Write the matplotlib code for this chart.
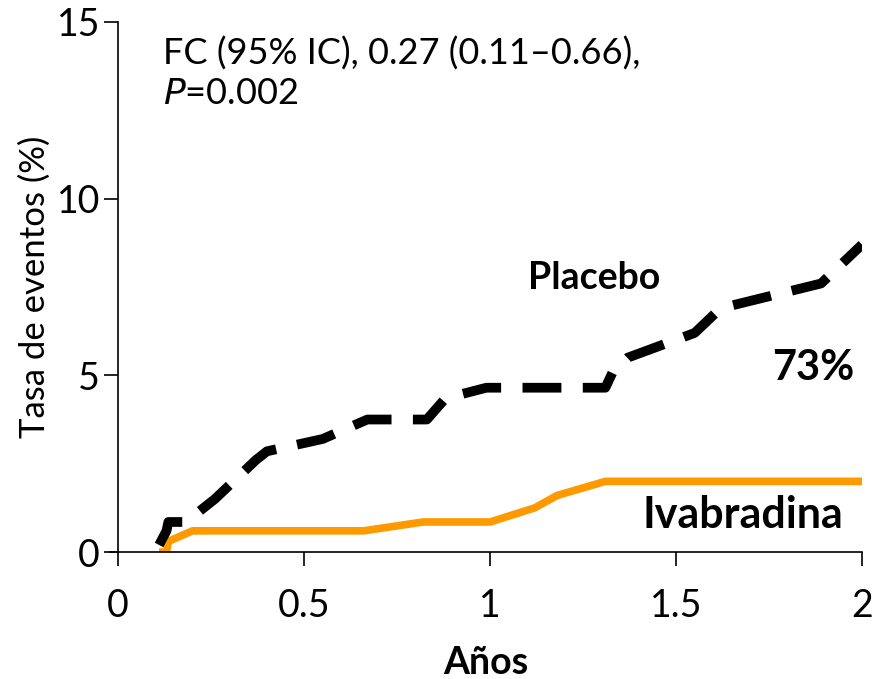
import matplotlib.pyplot as plt

# Kaplan-Meier style cumulative event rates
placebo_x = [0.11, 0.13, 0.135, 0.18, 0.20, 0.26, 0.37, 0.40, 0.55, 0.67, 0.83,
             0.88, 0.99, 1.31, 1.33, 1.37, 1.55, 1.62, 1.89, 1.95, 2.0]
placebo_y = [0.2, 0.6, 0.85, 0.85, 1.0, 1.5, 2.6, 2.85, 3.2, 3.75, 3.75,
             4.35, 4.65, 4.65, 5.1, 5.5, 6.2, 6.9, 7.6, 8.2, 8.7]

ivab_x = [0.11, 0.13, 0.135, 0.2, 0.66, 0.82, 1.0, 1.12, 1.18, 1.31, 2.0]
ivab_y = [0.0, 0.0, 0.3, 0.6, 0.6, 0.85, 0.85, 1.25, 1.6, 2.0, 2.0]

xticks = [0, 0.5, 1, 1.5, 2]
xtick_labels = ["0", "0.5", "1", "1.5", "2"]
yticks = [0, 5, 10, 15]

plt.rcParams['font.family'] = ['Lato', 'DejaVu Sans']

fig = plt.figure(figsize=(8.84, 6.79), dpi=100)
ax = fig.add_axes([0.1244, 0.187, 0.8507, 0.9676 - 0.187])

ax.plot(ivab_x, ivab_y, color='#FF9900', lw=5.5, solid_capstyle='butt')
ax.plot(placebo_x, placebo_y, color='black', lw=7, dashes=(4, 2.2))

ax.set_xlim(-0.022, 2)
ax.set_ylim(0, 15)
ax.spines['left'].set_position(('data', 0))
ax.spines['top'].set_visible(False)
ax.spines['right'].set_visible(False)
ax.spines['left'].set_linewidth(1.2)
ax.spines['bottom'].set_linewidth(1.2)

ax.set_xticks(xticks)
ax.set_xticklabels(xtick_labels)
ax.set_yticks(yticks)
ax.tick_params(axis='both', labelsize=27, length=10, width=1.2, direction='out')
ax.tick_params(axis='x', pad=16)
ax.tick_params(axis='y', pad=3)

ax.set_xlabel("Años", fontsize=27, fontweight='bold', labelpad=16)
ax.set_ylabel("Tasa de eventos (%)", fontsize=25, labelpad=4)

ax.text(0.12, 14.6, "FC (95% IC), 0.27 (0.11–0.66),\n$\\it{P}$=0.002",
        fontsize=26, va='top', ha='left', linespacing=1.25)
ax.text(1.28, 7.75, "Placebo", fontsize=27, fontweight='bold', ha='center', va='center')
ax.text(1.87, 5.2, "73%", fontsize=30, fontweight='bold', ha='center', va='center')
ax.text(1.68, 1.05, "Ivabradina", fontsize=31, fontweight='bold', ha='center', va='center')

fig.savefig("out.png", dpi=100)
